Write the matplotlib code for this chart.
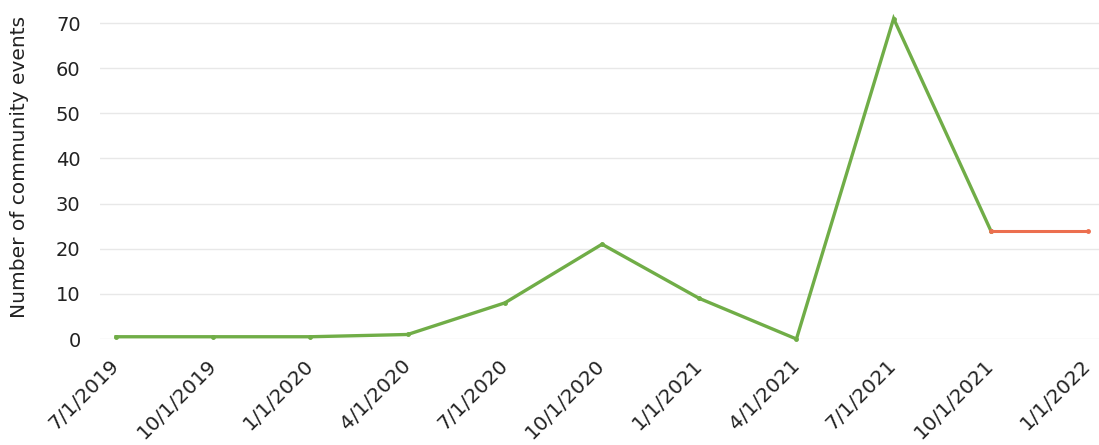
import matplotlib
matplotlib.use("Agg")
import matplotlib.pyplot as plt

# quarterly counts of community events
quarters = ["7/1/2019", "10/1/2019", "1/1/2020", "4/1/2020", "7/1/2020",
            "10/1/2020", "1/1/2021", "4/1/2021", "7/1/2021", "10/1/2021",
            "1/1/2022"]
actual_events = [0.5, 0.5, 0.5, 1, 8, 21, 9, 0, 71, 24]
projected_events = [24, 24]   # 10/1/2021 -> 1/1/2022
yticks = [0, 10, 20, 30, 40, 50, 60, 70]

green = "#70ad47"
orange = "#ec6f4f"

fig = plt.figure(figsize=(10.99, 4.45), dpi=100)
ax = fig.add_axes([0.091, 0.2382, 0.909, 0.7303])

xa = list(range(len(actual_events)))
ax.plot(xa, actual_events, color=green, lw=2.4, marker="o", ms=2.5,
        solid_joinstyle="miter", clip_on=False, zorder=3)
xp = list(range(len(actual_events) - 1, len(quarters)))
ax.plot(xp, projected_events, color=orange, lw=2.2, marker="o", ms=2.5,
        clip_on=False, zorder=3)

ax.set_xlim(-0.165, len(quarters) - 1 + 0.113)
ax.set_ylim(0, 72)
ax.set_yticks(yticks)
ax.set_xticks(range(len(quarters)))
ax.set_xticklabels(quarters, rotation=45, ha="right", va="center",
                   rotation_mode="anchor", fontsize=14.5, color="#222222")
ax.tick_params(axis="x", length=0, pad=17)
ax.tick_params(axis="y", length=0, pad=14, labelsize=14, labelcolor="#222222")

ax.grid(axis="y", color="#e8e8e8", lw=1)
ax.set_axisbelow(True)
for s in ax.spines.values():
    s.set_visible(False)

ax.set_ylabel("Number of community events", fontsize=14.5, color="#222222")
ax.yaxis.set_label_coords(-0.071, 0.53)

fig.savefig("out.png", dpi=100)
